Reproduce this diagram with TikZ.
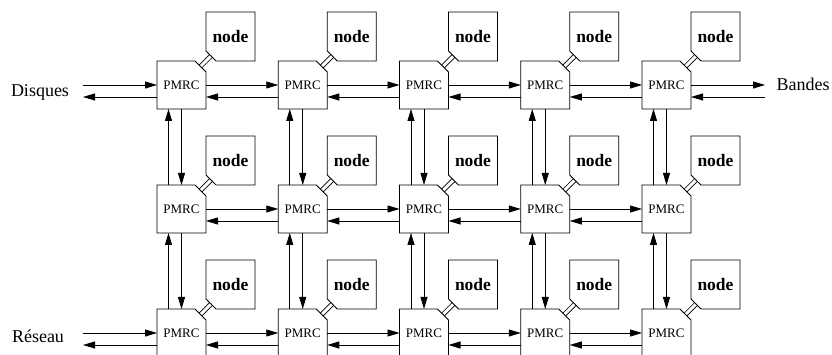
\documentclass[tikz,border=0pt]{standalone}
\usepackage{fontspec}
\setmainfont{Liberation Serif}
\usetikzlibrary{arrows.meta,calc}
\begin{document}
\begin{tikzpicture}[x=1pt,y=1pt,
  pmrc/.style={minimum width=49pt,minimum height=48pt,inner sep=0pt,outer sep=0pt,font=\fontsize{13}{15}\selectfont},
  nodebox/.style={minimum width=49pt,minimum height=49pt,inner sep=0pt,outer sep=0pt,font=\fontsize{17.5}{19}\selectfont\bfseries},
  lab/.style={font=\fontsize{18}{20}\selectfont, inner sep=0pt},
  arr/.style={-{Triangle[length=12pt,width=7pt]}, line width=0.8pt},
  link/.style={double, double distance=3pt, line width=0.8pt},
  outline/.style={line width=0.9pt}]
\useasboundingbox (0,0) rectangle (832,355);

\foreach \i in {0,...,4} {
  \foreach \j in {0,1,2} {
    \pgfmathsetmacro{\cx}{181.5+121.25*\i}
    \pgfmathsetmacro{\cy}{355-(85+124*\j)}
    \node[pmrc] (p\i\j) at (\cx,\cy) {PMRC};
    \node[nodebox, anchor=south west] (n\i\j) at (p\i\j.north east) {node};
    \coordinate (pc\i\j) at ($(p\i\j.north east)+(-5.5,-5.5)$);
    \coordinate (nc\i\j) at ($(n\i\j.south west)+(5,5)$);
    \draw[link] (pc\i\j) -- (nc\i\j);
    \draw[outline] (p\i\j.north west) -- ([xshift=-11pt]p\i\j.north east) -- ([yshift=-11pt]p\i\j.north east) -- (p\i\j.south east) -- (p\i\j.south west) -- cycle;
    \draw[outline] (n\i\j.north west) -- (n\i\j.north east) -- (n\i\j.south east) -- ([xshift=10pt]n\i\j.south west) -- ([yshift=10pt]n\i\j.south west) -- cycle;
  }
}

\foreach \i in {0,...,3} {
  \foreach \j in {0,1,2} {
    \pgfmathtruncatemacro{\k}{\i+1}
    \draw[arr] (p\i\j.east) -- (p\k\j.west);
    \draw[arr] ([yshift=-12pt]p\k\j.west) -- ([yshift=-12pt]p\i\j.east);
  }
}

\foreach \i in {0,...,4} {
  \foreach \j/\k in {0/1,1/2} {
    \draw[arr] (p\i\j.south) -- (p\i\k.north);
    \draw[arr] ([xshift=-13pt]p\i\k.north) -- ([xshift=-13pt]p\i\j.south);
  }
}

\node[lab] (disq) at (40,263) {Disques};
\path (p00.west) ++(-74,0) coordinate (dIn) ++(0,-12) coordinate (dOut);
\draw[arr] (dIn) -- (p00.west);
\draw[arr] ([yshift=-12pt]p00.west) -- (dOut);

\node[lab] (res) at (38,19) {Réseau};
\path (p02.west) ++(-74,0) coordinate (rIn) ++(0,-12) coordinate (rOut);
\draw[arr] (rIn) -- (p02.west);
\draw[arr] ([yshift=-12pt]p02.west) -- (rOut);

\node[lab] (band) at (803,271) {Bandes};
\path (p40.east) ++(74,0) coordinate (bOut) ++(0,-12) coordinate (bIn);
\draw[arr] (p40.east) -- (bOut);
\draw[arr] (bIn) -- ([yshift=-12pt]p40.east);
\end{tikzpicture}
\end{document}
